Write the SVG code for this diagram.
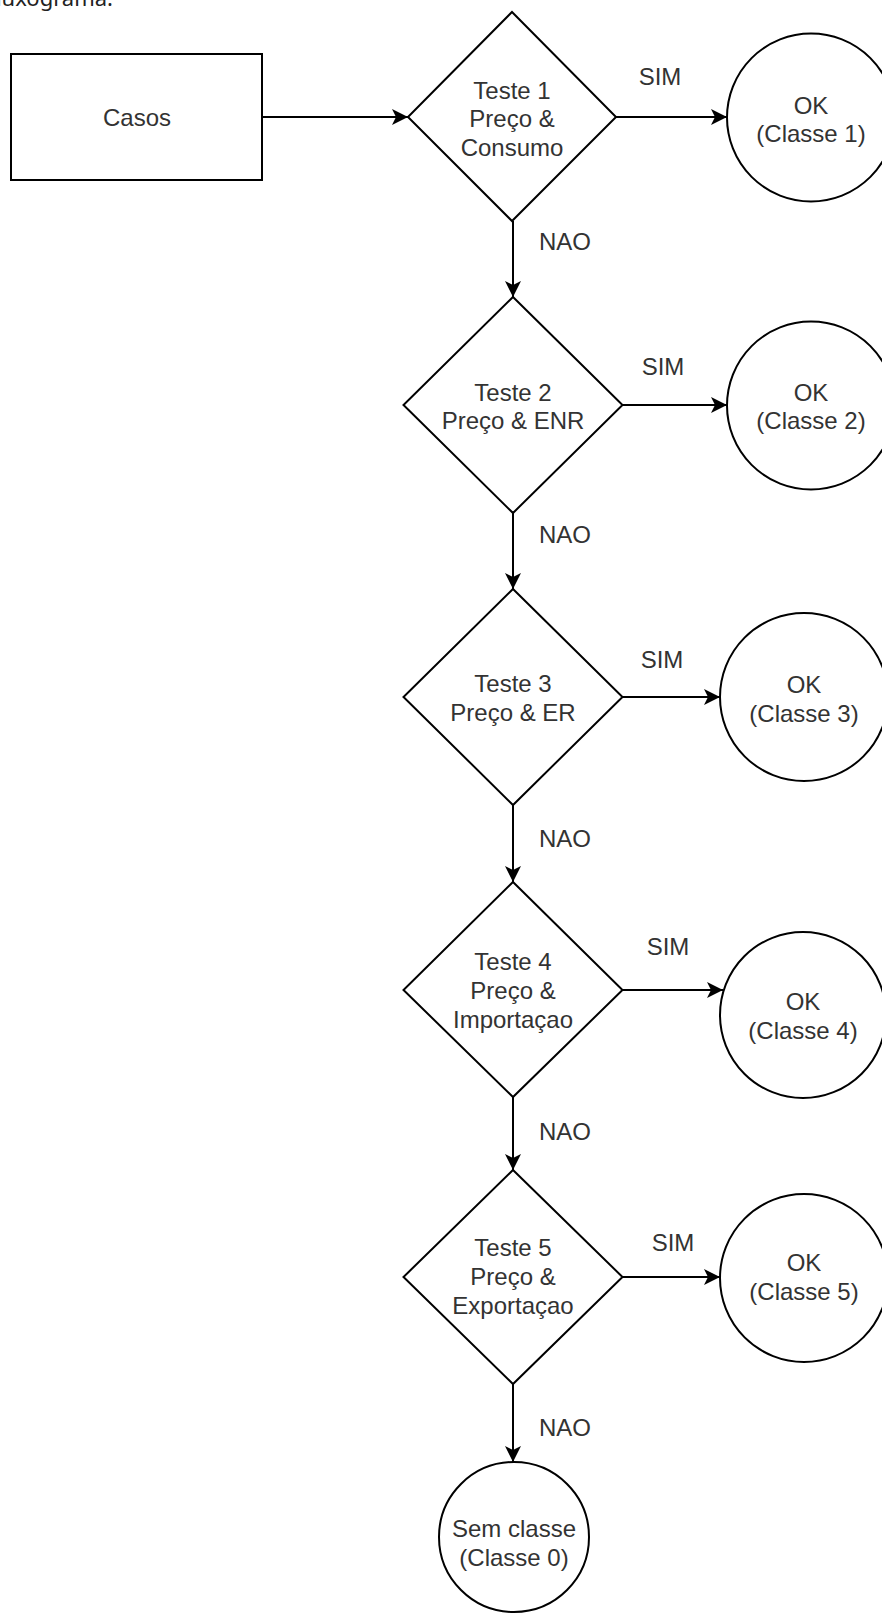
<svg xmlns="http://www.w3.org/2000/svg" width="882" height="1613" viewBox="0 0 882 1613">
<style>
.s{fill:#fff;stroke:#000;stroke-width:2}
.e{fill:none;stroke:#000;stroke-width:2}
text{font-family:"Liberation Sans",Arial,sans-serif;font-size:24px;fill:#333;text-anchor:middle}
.h{font-family:"Noto Sans","Open Sans",sans-serif;font-size:22px;fill:#222;text-anchor:end}
</style>
<defs>
<marker id="a" markerUnits="userSpaceOnUse" markerWidth="18" markerHeight="18" refX="16" refY="8" orient="auto">
<path d="M0,0 L16,8 L0,16 L4,8 Z" fill="#000"/>
</marker>
</defs>
<rect width="882" height="1613" fill="#fff"/>
<text class="h" x="113" y="6">Fluxograma:</text>
<g id="edges">
<path class="e" d="M262,117 H408" marker-end="url(#a)"/>
<path class="e" d="M616,117 H727" marker-end="url(#a)"/>
<path class="e" d="M513,221 V297" marker-end="url(#a)"/>
<path class="e" d="M622,405 H727" marker-end="url(#a)"/>
<path class="e" d="M513,513 V589" marker-end="url(#a)"/>
<path class="e" d="M622,697 H720" marker-end="url(#a)"/>
<path class="e" d="M513,805 V882" marker-end="url(#a)"/>
<path class="e" d="M622,990 H723" marker-end="url(#a)"/>
<path class="e" d="M513,1097 V1170" marker-end="url(#a)"/>
<path class="e" d="M622,1277 H720" marker-end="url(#a)"/>
<path class="e" d="M513,1384 V1462" marker-end="url(#a)"/>
<text x="660" y="85">SIM</text>
<text x="663" y="375">SIM</text>
<text x="662" y="668">SIM</text>
<text x="668" y="955">SIM</text>
<text x="673" y="1251">SIM</text>
<text x="565" y="250">NAO</text>
<text x="565" y="543">NAO</text>
<text x="565" y="847">NAO</text>
<text x="565" y="1140">NAO</text>
<text x="565" y="1436">NAO</text>
</g>
<g id="casos">
<rect class="s" x="11" y="54" width="251" height="126"/>
<text x="137" y="126">Casos</text>
</g>
<g id="teste1">
<polygon class="s" points="512,12 616,117 512,221 408,117"/>
<text x="512" y="98.5">Teste 1</text>
<text x="512" y="127">Preço &amp;</text>
<text x="512" y="155.5">Consumo</text>
</g>
<g id="teste2">
<polygon class="s" points="513,297 622.5,405 513,513 403.5,405"/>
<text x="513" y="400.5">Teste 2</text>
<text x="513" y="429">Preço &amp; ENR</text>
</g>
<g id="teste3">
<polygon class="s" points="513,589 622.5,697 513,805 403.5,697"/>
<text x="513" y="691.5">Teste 3</text>
<text x="513" y="720.5">Preço &amp; ER</text>
</g>
<g id="teste4">
<polygon class="s" points="513,882 622.5,990 513,1097 403.5,990"/>
<text x="513" y="970">Teste 4</text>
<text x="513" y="999">Preço &amp;</text>
<text x="513" y="1028">Importaçao</text>
</g>
<g id="teste5">
<polygon class="s" points="513,1170 622.5,1277 513,1384 403.5,1277"/>
<text x="513" y="1256">Teste 5</text>
<text x="513" y="1285">Preço &amp;</text>
<text x="513" y="1314">Exportaçao</text>
</g>
<g id="classe1">
<circle class="s" cx="811" cy="117.5" r="84"/>
<text x="811" y="113.5">OK</text>
<text x="811" y="142">(Classe 1)</text>
</g>
<g id="classe2">
<circle class="s" cx="811" cy="405.5" r="84"/>
<text x="811" y="400.5">OK</text>
<text x="811" y="429">(Classe 2)</text>
</g>
<g id="classe3">
<circle class="s" cx="804" cy="697" r="84"/>
<text x="804" y="693">OK</text>
<text x="804" y="721.5">(Classe 3)</text>
</g>
<g id="classe4">
<circle class="s" cx="803" cy="1015" r="83"/>
<text x="803" y="1010">OK</text>
<text x="803" y="1038.5">(Classe 4)</text>
</g>
<g id="classe5">
<circle class="s" cx="804" cy="1278" r="84"/>
<text x="804" y="1271">OK</text>
<text x="804" y="1300">(Classe 5)</text>
</g>
<g id="classe0">
<circle class="s" cx="514" cy="1537" r="75"/>
<text x="514" y="1537">Sem classe</text>
<text x="514" y="1566">(Classe 0)</text>
</g>
</svg>
